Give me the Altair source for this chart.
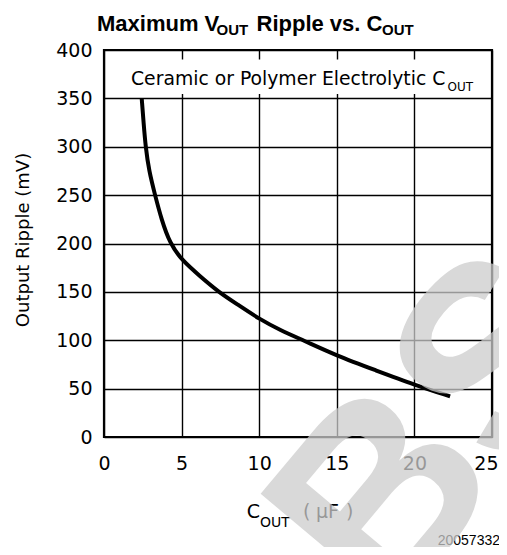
import altair as alt
import pandas as pd

# ---- data ----
c_out = [2.43, 2.55, 2.68, 2.9, 3.29, 3.7, 4.25, 5.0, 6.2, 7.37, 8.7, 10.0,
         11.4, 12.84, 15.0, 17.5, 20.0, 22.3]
ripple = [350, 325, 300, 275, 250, 225, 200, 183, 166, 150, 136, 122,
          110, 100, 84, 69, 54, 42]
x_ticks = [0, 5, 10, 15, 20, 25]
y_ticks = [0, 50, 100, 150, 200, 250, 300, 350, 400]

curve = pd.DataFrame({"c": c_out, "r": ripple})
one = pd.DataFrame({"k": [0]})

W, H = 388, 387
LABEL_FONT = "DejaVu Sans"

xs = alt.Scale(domain=[0, 25], nice=False, zero=False)
ys = alt.Scale(domain=[0, 400], nice=False, zero=False)

line = alt.Chart(curve).mark_line(
    color="black", strokeWidth=4, interpolate="basis", clip=False
).encode(
    x=alt.X("c:Q", scale=xs, axis=alt.Axis(
        values=x_ticks, title=None, grid=True, gridColor="black", gridWidth=1.4,
        gridOpacity=1, domain=False, ticks=False, labelFont=LABEL_FONT,
        labelFontSize=19, labelColor="black", labelPadding=17,
        labelFlush=False, labelExpr="datum.value == 25 ? '' : datum.label")),
    y=alt.Y("r:Q", scale=ys, axis=alt.Axis(
        values=y_ticks, title=None, grid=True, gridColor="black", gridWidth=1.4,
        gridOpacity=1, domain=False, ticks=False, labelFont=LABEL_FONT,
        labelFontSize=19, labelColor="black", labelPadding=12,
        labelFlush=False)),
)

box = alt.Chart(one).mark_rect(color="white").encode(
    x=alt.value(2), x2=alt.value(W - 2), y=alt.value(9.5), y2=alt.value(44))

frame = alt.Chart(one).mark_rect(
    fillOpacity=0, stroke="black", strokeWidth=2.2
).encode(x=alt.value(0), x2=alt.value(W), y=alt.value(0), y2=alt.value(H))


def txt(s, x, y, size=19, font=LABEL_FONT, weight="normal", align="left",
        baseline="alphabetic", angle=0, color="black"):
    kw = dict(text=s, font=font, fontSize=size, fontWeight=weight, align=align,
              baseline=baseline, color=color)
    if angle:
        kw["angle"] = angle
    return alt.Chart(one).mark_text(**kw).encode(x=alt.value(x), y=alt.value(y))


texts = [
    # title
    txt("Maximum V", -7, -19.5, size=22, font="Liberation Sans", weight="bold"),
    txt("OUT", 112.5, -15, size=15, font="Liberation Sans", weight="bold"),
    txt("Ripple vs. C", 152.5, -19.5, size=22, font="Liberation Sans", weight="bold"),
    txt("OUT", 278, -15, size=15, font="Liberation Sans", weight="bold"),
    # annotation in box
    txt("Ceramic or Polymer Electrolytic C", 27, 35, size=18.8),
    txt("OUT", 343.5, 41, size=12),
    # y title
    txt("Output Ripple (mV)", -80, 190, size=18, angle=270, align="center",
        baseline="middle"),
    # last x tick label (kept inside the page)
    txt("25", 394.5, 420, size=19, align="right"),
    # x title
    txt("C", 142.7, 468, size=19),
    txt("OUT", 156, 477, size=14),
    txt("(", 199, 468, size=19),
    txt("\u00b5F", 212, 468, size=19),
    txt(")", 242, 468, size=19),
    # figure number
    txt("20057332", 396, 495, size=14, font="Liberation Sans", align="right"),
]

watermark = alt.Chart(one).mark_text(
    text="OBSOLETE", font="Liberation Sans", fontWeight="bold", fontSize=260,
    angle=310, align="left", baseline="alphabetic", color="#cccccc", opacity=0.74
).encode(x=alt.value(152.5), y=alt.value(727))

chart = alt.layer(box, line, frame, *texts, watermark).properties(
    width=W, height=H,
    autosize=alt.AutoSizeParams(type="none"),
    padding={"left": 96, "top": 42, "right": 7, "bottom": 110},
    background="white",
).configure_view(stroke=None)

chart.save("out.html", embed_options={"renderer": "svg", "actions": False})
